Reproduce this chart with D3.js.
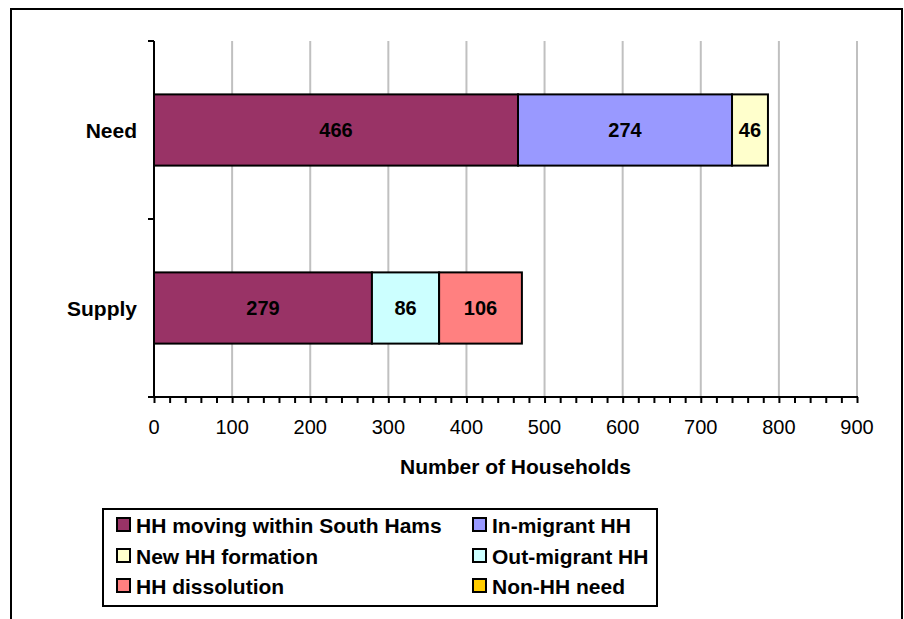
<!DOCTYPE html>
<html>
<head>
<meta charset="utf-8">
<script src="https://cdn.jsdelivr.net/npm/d3@7"></script>
<style>
  html, body { margin: 0; padding: 0; background: #fff; }
  svg { display: block; font-family: "Liberation Sans", Arial, sans-serif; }
</style>
</head>
<body>
<svg id="chart" width="904" height="619"></svg>
<script>
// Household flows, South Hams
const categories = ["Need", "Supply"];
const seriesNames = ["HH moving within South Hams", "In-migrant HH", "New HH formation",
                     "Out-migrant HH", "HH dissolution", "Non-HH need"];
const seriesColors = ["#993366", "#9999FF", "#FFFFCC", "#CCFFFF", "#FF8080", "#FFCC00"];
// values per category in series order (0 = not present)
const needValues   = [466, 274, 46, 0, 0, 0];
const supplyValues = [279, 0, 0, 86, 106, 0];
const xTicks = [0, 100, 200, 300, 400, 500, 600, 700, 800, 900];
const xTitle = "Number of Households";

const svg = d3.select("#chart");

// outer frame
svg.append("rect").attr("x", 11).attr("y", 9).attr("width", 891).attr("height", 640)
  .attr("fill", "none").attr("stroke", "#000").attr("stroke-width", 2);

const plot = { left: 154, right: 857, top: 41, bottom: 397 };

const x = d3.scaleLinear().domain([0, 900]).range([plot.left, plot.right]);
const y = d3.scaleBand().domain(categories).range([plot.top, plot.bottom])
  .paddingInner(0.6).paddingOuter(0.3);

// vertical gridlines
svg.append("g").selectAll("line").data(xTicks.filter(d => d > 0)).join("line")
  .attr("x1", d => x(d)).attr("x2", d => x(d))
  .attr("y1", plot.top).attr("y2", plot.bottom)
  .attr("stroke", "#c0c0c0").attr("stroke-width", 2);

// stacked bars
const rows = [
  { cat: "Need", values: needValues },
  { cat: "Supply", values: supplyValues }
];
const segs = [];
rows.forEach(r => {
  let acc = 0;
  r.values.forEach((v, i) => {
    if (v > 0) {
      segs.push({ cat: r.cat, x0: acc, x1: acc + v, v, color: seriesColors[i] });
      acc += v;
    }
  });
});

const barG = svg.append("g");
barG.selectAll("rect").data(segs).join("rect")
  .attr("x", d => x(d.x0)).attr("width", d => x(d.x1) - x(d.x0))
  .attr("y", d => y(d.cat)).attr("height", y.bandwidth())
  .attr("fill", d => d.color).attr("stroke", "#000").attr("stroke-width", 2);

barG.selectAll("text").data(segs).join("text")
  .attr("x", d => (x(d.x0) + x(d.x1)) / 2)
  .attr("y", d => y(d.cat) + y.bandwidth() / 2)
  .attr("dy", "0.36em").attr("text-anchor", "middle")
  .attr("font-size", 20).attr("font-weight", "bold").attr("fill", "#000")
  .text(d => d.v);

// x axis with minor ticks every 20
const xAxisG = svg.append("g").attr("transform", `translate(0,${plot.bottom})`);
xAxisG.call(d3.axisBottom(x).tickValues(d3.range(0, 901, 20)).tickSize(6).tickFormat(""))
  .call(g => g.select(".domain").remove())
  .call(g => g.selectAll(".tick line").attr("stroke", "#000").attr("stroke-width", 2));
xAxisG.append("line").attr("x1", plot.left - 1).attr("x2", plot.right + 1)
  .attr("y1", 0).attr("y2", 0).attr("stroke", "#000").attr("stroke-width", 2);
xAxisG.selectAll(".lbl").data(xTicks).join("text").attr("class", "lbl")
  .attr("x", d => x(d)).attr("y", 37).attr("text-anchor", "middle")
  .attr("font-size", 20).attr("fill", "#000").text(d => d);

svg.append("text").attr("x", (plot.left + plot.right) / 2 + 10).attr("y", 474)
  .attr("text-anchor", "middle").attr("font-size", 21).attr("font-weight", "bold")
  .text(xTitle);

// y axis
const yAxisG = svg.append("g");
yAxisG.append("line").attr("x1", plot.left).attr("x2", plot.left)
  .attr("y1", plot.top).attr("y2", plot.bottom + 1)
  .attr("stroke", "#000").attr("stroke-width", 2);
const bandEdges = [plot.top, (plot.top + plot.bottom) / 2, plot.bottom];
yAxisG.selectAll(".yt").data(bandEdges).join("line").attr("class", "yt")
  .attr("x1", plot.left - 6).attr("x2", plot.left)
  .attr("y1", d => d).attr("y2", d => d)
  .attr("stroke", "#000").attr("stroke-width", 2);
yAxisG.selectAll("text").data(categories).join("text")
  .attr("x", 137).attr("y", d => y(d) + y.bandwidth() / 2)
  .attr("dy", "0.36em").attr("text-anchor", "end")
  .attr("font-size", 21).attr("font-weight", "bold").text(d => d);

// legend
const legend = svg.append("g");
legend.append("rect").attr("x", 103).attr("y", 509).attr("width", 554).attr("height", 97)
  .attr("fill", "#fff").attr("stroke", "#000").attr("stroke-width", 2);
const legendItems = seriesNames.map((n, i) => ({ name: n, color: seriesColors[i], col: i % 2, row: Math.floor(i / 2) }));
const colX = [117, 473];
const rowY = [525, 556, 586];
const li = legend.selectAll("g.item").data(legendItems).join("g").attr("class", "item")
  .attr("transform", d => `translate(${colX[d.col]},${rowY[d.row]})`);
li.append("rect").attr("x", 0).attr("y", -7).attr("width", 13).attr("height", 13)
  .attr("fill", d => d.color).attr("stroke", "#000").attr("stroke-width", 2);
li.append("text").attr("x", 19).attr("y", 0).attr("dy", "0.36em")
  .attr("font-size", 21).attr("font-weight", "bold").text(d => d.name);
</script>
</body>
</html>
